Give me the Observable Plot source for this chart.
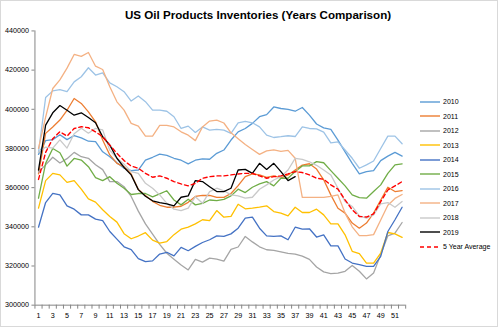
<!DOCTYPE html>
<html><head><meta charset="utf-8">
<script src="https://cdn.jsdelivr.net/npm/d3@7"></script>
<script src="https://cdn.jsdelivr.net/npm/@observablehq/plot@0.6"></script>
<style>
body{margin:0;background:#fff;font-family:"Liberation Sans",Arial,sans-serif}
#chart{position:relative;width:496px;height:325px;overflow:hidden;border:1px solid #d9d9d9;background:#fff}
#plot{position:absolute;left:-1px;top:-1px}
#title{position:absolute;left:124px;top:7px;white-space:nowrap;font-weight:bold;font-size:11.6px;color:#000}
#legend{position:absolute;left:418px;top:93.5px;font-size:7px;color:#000}
.item{height:14.5px;display:flex;align-items:center}
.item svg{margin-right:2px}
</style></head>
<body><div id="chart"><div id="plot"></div><div id="title">US Oil Products Inventories (Years Comparison)</div><div id="legend"></div></div>
<script>
// values in thousands of barrels, weeks 1..52
const weeks = d3.range(1, 53);
const y2010 = [377,384,384.5,387,384.5,386.6,385.4,383.7,383.5,378.3,375.8,372.7,369.9,368.7,369,374,375.5,377.1,376.5,375,374,372.1,374,374.7,374.5,377.5,379.2,384.3,388.5,390.2,392.8,396.2,397.3,401.2,400.4,400,399,400.9,397,392.5,390.5,389.7,384.3,378.3,372.4,367,368.2,368.7,373.8,376.1,378,376.1];
const y2011 = [367,387.7,391,394.5,399.5,405.5,403,398.7,393.6,384.3,376.7,372.4,370.7,367,359,356,353,351,350,350,350.5,352.5,355.5,356,356,355,355,357,361,365.6,367,366.5,365.2,366,365,366.5,369,371.5,372.2,369.5,364,356.3,349.5,347,341.9,339.3,341.9,347,353.7,360.2,358,358.5];
const y2012 = [368,371.6,375.5,372.6,374.8,378,375.8,375,371.7,369.2,363.1,363.1,360.5,355.5,348,341.5,336.3,331,326.5,323.5,320.5,318,323.4,322,324,323.5,322.5,328.5,329.7,335.1,332.3,329.8,328.3,328,327.2,326.4,326.1,325,323.4,319.5,317,316.1,316.4,317.3,320.3,317.3,313.4,316.4,325.8,335.4,336.8,342.2];
const y2013 = [349.5,363.6,367.3,366.5,362.7,363.6,359.2,354.3,352.6,348.7,345.3,342.4,336.5,333.9,335.3,337,333.2,331.7,332.5,336,338.8,339.8,341.5,343.6,343.2,348.3,344.9,345.3,351.5,349.2,349.5,350,350.7,347.8,347,345.6,350,347.3,347.3,349,346.1,341.5,341.5,335.9,327.5,326.3,321.5,321.5,326.6,337.1,336.4,334.6];
const y2014 = [339.8,352.4,357.1,356.3,350.7,349,346.1,346.1,343.9,343.2,337.6,333.7,329.8,328.4,323.8,322.2,322.6,326.1,327,325.2,329.5,327.8,330,332,333.4,335.4,335.1,336.4,339.3,344.4,344.9,339.3,335.4,335.1,335.4,333.4,339.8,338.8,339,334.8,335.9,330.3,330.3,323.6,321.5,320.7,319.8,319.8,324.9,337.6,343.6,350];
const y2015 = [354.6,372.4,380,377.8,371,374.9,374.1,370.7,365.1,363.6,365.6,362.2,359.7,356.5,357,357,355.3,356.8,358.4,353.7,351.2,354.1,351.2,352,353.7,353.4,354,355.8,359.2,357.5,360.2,361.9,363.1,360.9,364.8,364.8,368.2,371.1,371.1,373.3,372.7,368.7,364.8,360.9,356.3,354.9,354.6,358,361.4,367.3,371.6,372.1];
const y2016 = [378,406,409.4,410,409,414,416.6,421.2,417.5,418.6,413.5,411.5,409,404.2,406.8,403.9,399.6,399.6,399,396.2,390.2,391.4,388.2,391,389.4,389.7,389.4,387.7,393.1,393.8,393.1,391,386.8,385.6,386,386.5,386.1,391,390.2,390,388.3,382.9,383.4,379.2,375,369.9,371.6,373.6,380,386.3,386.3,382.4];
const y2017 = [380,396,410.6,415,421,428,427,429,422,420.3,411.5,403.8,399.6,392.8,391.4,386.3,386.3,391.8,391.8,391,388.5,386.8,384,391,394,394.5,393,388,385,382,379.5,377,378.8,379.3,378.5,379,375,355,355,355,355,355.5,356.3,347,340,335.5,335.5,336,343.5,351,354.5,356.5];
const y2018 = [378,380.7,380.2,384.4,380.2,387.5,390.3,387.8,390.3,389.5,379,375,372,368.2,367.3,362.2,359.7,356.3,352,349,348.3,349.5,355.4,352,358,359.7,358.4,356.3,355.8,354.6,355.1,359.2,361.4,363.9,365.6,369,374.9,374.4,373.2,371.4,369,366.5,359.7,352.9,350.4,345.6,344.4,346.1,351.7,352.4,350,352.9];
const y2019 = [369,391.9,398.2,401.9,399.5,397,398.2,395.8,393.1,386,381.7,375,370.3,366.5,359,355.6,353.3,352.4,351.7,350.7,355.1,355.8,363.6,363.1,360.5,358,358,359.7,369,369.3,367.3,372.4,369.3,372.4,368.2,363.6,365.6];
const avg5 = [364.2,378,385,388.5,386.3,390.2,391.1,390.6,388.5,386,381.7,377.5,373.8,371,369.9,367.3,365.3,366,364.8,363.1,361.9,360.9,362.2,364.8,365.6,366,366,366.5,367,367.3,367.3,366,364.8,365.6,366,367,368.2,367.7,366.5,364.8,364.3,361.4,359.2,353.8,348.7,345.3,345,346.6,352.9,358.8,360.9,363.1];

const yearNames = ["2010","2011","2012","2013","2014","2015","2016","2017","2018","2019"];
const yearSeries = [y2010,y2011,y2012,y2013,y2014,y2015,y2016,y2017,y2018,y2019];
const yearColors = ["#5B9BD5","#ED7D31","#A5A5A5","#FFC000","#4472C4","#70AD47","#9DC3E6","#F4B183","#C9C9C9","#000000"];
const avgName = "5 Year Average";
const avgColor = "#FF0000";
const yTicks = [300000,320000,340000,360000,380000,400000,420000,440000];
const xLabels = d3.range(1, 53, 2);

const xDomain = [0.5, 52.5];
const yDomain = [300000, 440000];

const rows = [];
yearSeries.forEach((vals, k) => vals.forEach((v, i) => rows.push({week: weeks[i], value: v * 1000, year: yearNames[k]})));
const avgRows = avg5.map((v, i) => ({week: weeks[i], value: v * 1000}));
const tickPos = d3.range(xDomain[0], xDomain[1] + 0.01, 1);

const axisColor = "#868686";
const chart = Plot.plot({
  width: 498, height: 327,
  marginTop: 30.5, marginBottom: 21.7, marginLeft: 34.5, marginRight: 92,
  style: {fontFamily: "Liberation Sans, Arial, sans-serif", fontSize: "7.2px", color: "#000", background: "transparent", overflow: "visible"},
  x: {type: "linear", domain: xDomain, axis: null},
  y: {domain: yDomain, axis: null},
  color: {domain: yearNames, range: yearColors},
  marks: [
    Plot.ruleX([xDomain[0]], {stroke: axisColor, strokeWidth: 1}),
    Plot.ruleY([yDomain[0]], {stroke: axisColor, strokeWidth: 1}),
    Plot.axisY(yTicks, {anchor: "left", label: null, tickSize: 3, tickPadding: 3, stroke: axisColor, tickFormat: d3.format("d")}),
    Plot.axisX(tickPos, {anchor: "bottom", label: null, tickSize: 4, stroke: axisColor, tickFormat: () => ""}),
    Plot.axisX(xLabels, {anchor: "bottom", label: null, tickSize: 0, tickPadding: 8, tickFormat: d => String(d)}),
    Plot.line(rows, {x: "week", y: "value", z: "year", stroke: "year", strokeWidth: 1.3, curve: "linear"}),
    Plot.line(avgRows, {x: "week", y: "value", stroke: avgColor, strokeWidth: 1.4, strokeDasharray: "4,3"})
  ]
});
document.getElementById("plot").appendChild(chart);

// legend
const leg = document.getElementById("legend");
const items = yearNames.map((n, i) => ({name: n, color: yearColors[i], dash: null}))
  .concat([{name: avgName, color: avgColor, dash: "4,3"}]);
items.forEach(it => {
  const d = document.createElement("div");
  d.className = "item";
  d.innerHTML = `<svg width="22" height="4"><line x1="1" x2="21" y1="2" y2="2" stroke="${it.color}" stroke-width="1.4" ${it.dash ? `stroke-dasharray="${it.dash}"` : ""}/></svg><span>${it.name}</span>`;
  leg.appendChild(d);
});
</script>
</body></html>
